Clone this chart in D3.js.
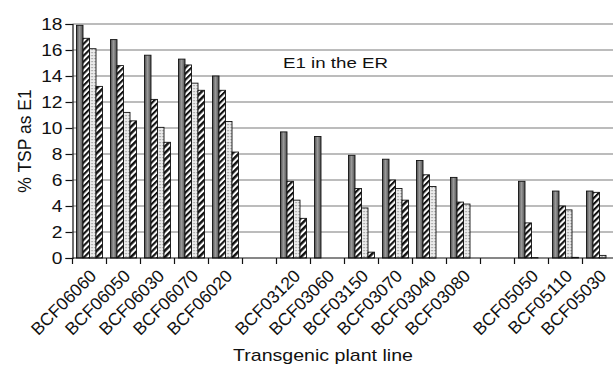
<!DOCTYPE html>
<html>
<head>
<meta charset="utf-8">
<script src="https://cdn.jsdelivr.net/npm/d3@7"></script>
<style>
  body { margin: 0; background: #fff; }
  text { font-family: "Liberation Sans", Arial, Helvetica, sans-serif; fill: #111; }
</style>
</head>
<body>
<script>
const width = 613;
const height = 365;
const margin = { top: 24, bottom: 107, left: 72.5 };
const slotWidth = 34;

// slots along the x axis, "gap" entries are empty slots between the families
const slots = [
  "BCF06060", "BCF06050", "BCF06030", "BCF06070", "BCF06020", "gap1",
  "BCF03120", "BCF03060", "BCF03150", "BCF03070", "BCF03040", "BCF03080", "gap2",
  "BCF05050", "BCF05110", "BCF05030"
];
const lines = slots.filter((s) => !s.startsWith("gap"));
const series = ["s1", "s2", "s3", "s4"];

const s1 = [17.9, 16.8, 15.6, 15.3, 14.0, 9.7, 9.35, 7.9, 7.6, 7.5, 6.2, 5.9, 5.15, 5.15];
const s2 = [16.9, 14.8, 12.2, 14.85, 12.9, 5.9, 0, 5.35, 6.0, 6.4, 4.3, 2.7, 4.0, 5.05];
const s3 = [16.1, 11.2, 10.05, 13.45, 10.5, 4.45, 0, 3.85, 5.35, 5.5, 4.15, 0.03, 3.7, 0.2];
const s4 = [13.2, 10.55, 8.9, 12.9, 8.15, 3.05, 0, 0.45, 4.45, 0, 0, 0, 0.05, 0];
const yTicks = [0, 2, 4, 6, 8, 10, 12, 14, 16, 18];

const data = lines.map((name, i) => ({
  name,
  values: [s1[i], s2[i], s3[i], s4[i]],
}));

const svg = d3.select("body").append("svg").attr("width", width).attr("height", height);

// fills: shaded grey, two stripe patterns, dotted
const defs = svg.append("defs");
const grad = defs.append("linearGradient").attr("id", "g1").attr("x1", 0).attr("x2", 1).attr("y1", 0).attr("y2", 0);
grad.append("stop").attr("offset", "0%").attr("stop-color", "#4a4a4a");
grad.append("stop").attr("offset", "45%").attr("stop-color", "#9a9a9a");
grad.append("stop").attr("offset", "100%").attr("stop-color", "#505050");

function stripes(id, w, dark) {
  const p = defs.append("pattern").attr("id", id).attr("patternUnits", "userSpaceOnUse")
    .attr("width", w).attr("height", w).attr("patternTransform", "rotate(45)");
  p.append("rect").attr("width", w).attr("height", w).attr("fill", "#fff");
  p.append("rect").attr("width", dark).attr("height", w).attr("fill", "#111");
}
stripes("p2", 4.2, 2.1);
stripes("p4", 4.6, 2.5);

const dots = defs.append("pattern").attr("id", "p3").attr("patternUnits", "userSpaceOnUse")
  .attr("width", 3).attr("height", 3);
dots.append("rect").attr("width", 3).attr("height", 3).attr("fill", "#ececec");
dots.append("rect").attr("x", 1).attr("y", 1).attr("width", 1.2).attr("height", 1.2).attr("fill", "#8a8a8a");

const fills = { s1: "url(#g1)", s2: "url(#p2)", s3: "url(#p3)", s4: "url(#p4)" };

const x = d3.scaleBand().domain(slots)
  .range([margin.left, margin.left + slotWidth * slots.length]).padding(0);
const xs = d3.scaleBand().domain(series).range([4, x.bandwidth() - 4]).padding(0);
const y = d3.scaleLinear().domain([0, 18]).range([height - margin.bottom, margin.top]);

// gridlines
svg.append("g")
  .selectAll("line")
  .data(yTicks.filter((d) => d > 0))
  .join("line")
  .attr("x1", margin.left)
  .attr("x2", width)
  .attr("y1", (d) => y(d))
  .attr("y2", (d) => y(d))
  .attr("stroke", "#7a7a7a")
  .attr("stroke-width", 1.2);

// bars
const groups = svg.append("g")
  .selectAll("g")
  .data(data)
  .join("g")
  .attr("transform", (d) => `translate(${x(d.name)},0)`);

groups.selectAll("rect")
  .data((d) => d.values.map((v, i) => ({ key: series[i], v })))
  .join("rect")
  .filter((d) => d.v > 0)
  .attr("x", (d) => xs(d.key))
  .attr("width", xs.bandwidth())
  .attr("y", (d) => y(d.v))
  .attr("height", (d) => y(0) - y(d.v))
  .attr("fill", (d) => fills[d.key])
  .attr("stroke", "#111")
  .attr("stroke-width", 0.9);

// y axis, labels are wide in the original so stretch them a little
const yAxis = svg.append("g")
  .attr("transform", `translate(${margin.left},0)`)
  .call(d3.axisLeft(y).tickValues(yTicks).tickSize(7).tickPadding(2));
yAxis.selectAll("text")
  .style("font-size", "16px")
  .attr("x", -10 / 1.2)
  .attr("transform", "scale(1.2,1)");
yAxis.selectAll("path, line").attr("stroke", "#111").attr("stroke-width", 1.2);

// x axis
const xAxisG = svg.append("g").attr("transform", `translate(0,${y(0)})`);
xAxisG.append("line")
  .attr("x1", margin.left).attr("x2", width)
  .attr("stroke", "#111").attr("stroke-width", 1.2);
xAxisG.selectAll("line.tick")
  .data(slots)
  .join("line")
  .attr("class", "tick")
  .attr("x1", (d) => x(d)).attr("x2", (d) => x(d))
  .attr("y1", 0).attr("y2", 6)
  .attr("stroke", "#111").attr("stroke-width", 1.2);
xAxisG.selectAll("text")
  .data(lines)
  .join("text")
  .attr("transform", (d) => `translate(${x(d) + x.bandwidth() / 2 + 8},19) rotate(-45)`)
  .attr("text-anchor", "end")
  .style("font-size", "17.5px")
  .text((d) => d);

// titles
svg.append("text")
  .attr("transform", `translate(31,${(y(0) + y(18)) / 2}) rotate(-90)`)
  .attr("text-anchor", "middle")
  .style("font-size", "17.5px")
  .text("% TSP as E1");

svg.append("text")
  .attr("x", 233)
  .attr("y", 361)
  .attr("textLength", 180)
  .attr("lengthAdjust", "spacingAndGlyphs")
  .style("font-size", "17px")
  .text("Transgenic plant line");

svg.append("text")
  .attr("x", 283)
  .attr("y", 68)
  .attr("textLength", 105)
  .attr("lengthAdjust", "spacingAndGlyphs")
  .style("font-size", "15.5px")
  .text("E1 in the ER");
</script>
</body>
</html>
